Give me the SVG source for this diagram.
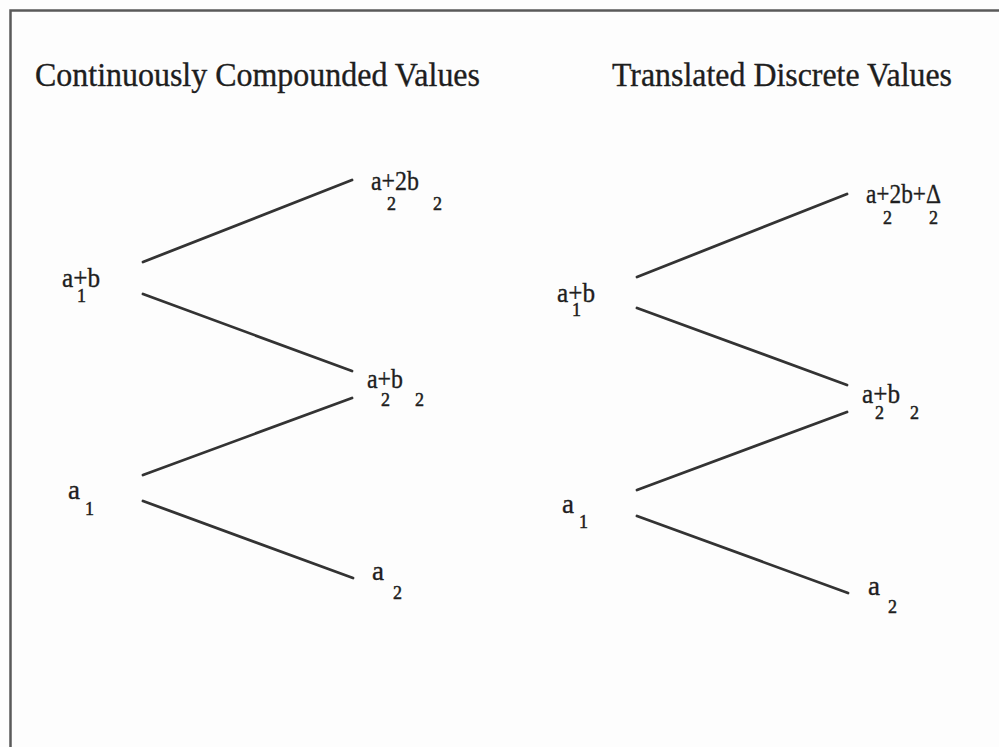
<svg xmlns="http://www.w3.org/2000/svg" width="999" height="747" viewBox="0 0 999 747">
<style>
text{fill:#1e1e1e;stroke:#1e1e1e;stroke-width:0.35;font-family:"Times New Roman","Liberation Serif","DejaVu Serif",serif}
.t{font-size:33px}
.m{font-size:27px}
.s{font-size:18px;stroke-width:0.5}
.e{stroke:#333;stroke-width:2.8;fill:none;stroke-linecap:round}
.b{stroke:#5a5a5a;stroke-width:2.5;fill:none}
</style>
<rect width="999" height="747" fill="#fdfdfd"/>
<path class="b" d="M10.5,747 V10.5 H999"/>
<g id="titles">
<text class="t" x="35" y="86" textLength="445" lengthAdjust="spacingAndGlyphs">Continuously Compounded Values</text>
<text class="t" x="612" y="86" textLength="340" lengthAdjust="spacingAndGlyphs">Translated Discrete Values</text>
</g>
<g id="connectors">
<line class="e" x1="143" y1="262" x2="352" y2="180"/>
<line class="e" x1="143" y1="294" x2="352" y2="371"/>
<line class="e" x1="143" y1="475" x2="352" y2="398"/>
<line class="e" x1="143" y1="501" x2="353" y2="578"/>
<line class="e" x1="637" y1="277" x2="847" y2="194"/>
<line class="e" x1="637" y1="308" x2="847" y2="385"/>
<line class="e" x1="637" y1="490" x2="847" y2="412"/>
<line class="e" x1="637" y1="516" x2="848" y2="593"/>
</g>
<g id="L-a1b">
<text class="m" x="62" y="287" textLength="38" lengthAdjust="spacingAndGlyphs">a+b</text>
<text class="s" x="77" y="302">1</text>
</g>
<g id="L-a1">
<text class="m" x="68" y="499">a</text>
<text class="s" x="85" y="515">1</text>
</g>
<g id="L-a2b2x2">
<text class="m" x="371" y="190" textLength="48" lengthAdjust="spacingAndGlyphs">a+2b</text>
<text class="s" x="387" y="210">2</text>
<text class="s" x="433" y="210">2</text>
</g>
<g id="L-a2b2">
<text class="m" x="367" y="388" textLength="36" lengthAdjust="spacingAndGlyphs">a+b</text>
<text class="s" x="381" y="406">2</text>
<text class="s" x="415" y="406">2</text>
</g>
<g id="L-a2">
<text class="m" x="372" y="580">a</text>
<text class="s" x="393" y="599">2</text>
</g>
<g id="R-a1b">
<text class="m" x="557" y="302" textLength="38" lengthAdjust="spacingAndGlyphs">a+b</text>
<text class="s" x="572" y="316">1</text>
</g>
<g id="R-a1">
<text class="m" x="562" y="513">a</text>
<text class="s" x="579" y="528">1</text>
</g>
<g id="R-a2b2x2d">
<text class="m" x="866" y="203" textLength="75" lengthAdjust="spacingAndGlyphs">a+2b+Δ</text>
<text class="s" x="883" y="224">2</text>
<text class="s" x="929" y="224">2</text>
</g>
<g id="R-a2b2">
<text class="m" x="862" y="403" textLength="38" lengthAdjust="spacingAndGlyphs">a+b</text>
<text class="s" x="875" y="419">2</text>
<text class="s" x="910" y="419">2</text>
</g>
<g id="R-a2">
<text class="m" x="868" y="595">a</text>
<text class="s" x="888" y="613">2</text>
</g>
</svg>
